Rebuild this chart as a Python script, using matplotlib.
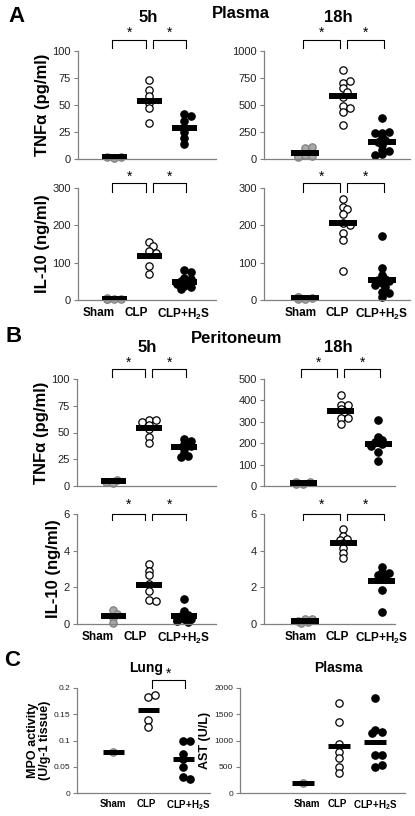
import matplotlib
matplotlib.use('Agg')
import matplotlib.pyplot as plt
from matplotlib.transforms import blended_transform_factory

plt.rcParams['font.family'] = ['Liberation Sans', 'DejaVu Sans']
plt.rcParams['mathtext.fontset'] = 'custom'
plt.rcParams['mathtext.rm'] = 'Liberation Sans'
plt.rcParams['mathtext.bf'] = 'Liberation Sans:bold'

groups = ['Sham', 'CLP', r'CLP+H$_\mathbf{2}$S']

# A - plasma
tnf_pl_5h = [[1, 2, 1.5], [73, 64, 58, 52, 47, 33], [42, 40, 35, 29, 25, 19, 14]]
tnf_pl_5h_mean = [1.5, 54, 28.5]
tnf_pl_18h = [[100, 115, 40, 25, 30, 20],
              [821, 706, 721, 655, 624, 570, 494, 473, 433, 312],
              [380, 245, 250, 240, 200, 175, 160, 130, 85, 70, 45, 35]]
tnf_pl_18h_mean = [55, 585, 160]
il10_pl_5h = [[2, 4, 3, 5, 3], [155, 145, 130, 125, 92, 70],
              [80, 75, 60, 55, 50, 48, 45, 42, 38, 35, 30]]
il10_pl_5h_mean = [3, 118, 48]
il10_pl_18h = [[3, 5, 8, 6, 4, 7], [270, 250, 243, 230, 205, 200, 180, 162, 79],
               [171, 86, 66, 57, 53, 50, 45, 40, 35, 22, 18, 9]]
il10_pl_18h_mean = [5, 205, 54]

# B - peritoneum
tnf_pe_5h = [[3, 6, 4], [62, 62, 60, 57, 53, 46, 40], [44, 42, 39, 37, 35, 31, 28, 27]]
tnf_pe_5h_mean = [4.5, 54, 36]
tnf_pe_18h = [[10, 18, 15, 12, 20, 8], [425, 380, 380, 360, 345, 320, 320, 290],
              [308, 230, 215, 205, 195, 190, 185, 160, 115]]
tnf_pe_18h_mean = [14, 350, 194]
il10_pe_5h = [[0.75, 0.55, 0.35, 0.05], [3.3, 2.9, 2.65, 2.2, 1.8, 1.3, 1.25],
              [1.38, 0.7, 0.5, 0.45, 0.3, 0.25, 0.2, 0.15, 0.1]]
il10_pe_5h_mean = [0.42, 2.15, 0.45]
il10_pe_18h = [[0.3, 0.25, 0.1, 0.05, 0.15], [5.2, 4.8, 4.65, 4.6, 4.4, 4.15, 3.9, 3.6],
               [3.1, 2.85, 2.8, 2.68, 2.6, 1.84, 0.63]]
il10_pe_18h_mean = [0.15, 4.41, 2.32]

# C - lung MPO and plasma AST
mpo_lung = [[0.078], [0.182, 0.186, 0.14, 0.126], [0.1, 0.1, 0.075, 0.064, 0.05, 0.031, 0.027]]
mpo_lung_mean = [0.078, 0.159, 0.064]
ast_plasma = [[195], [1710, 1350, 930, 775, 670, 500, 390],
              [1815, 1200, 1160, 1150, 720, 730, 500, 530]]
ast_plasma_mean = [190, 904, 978]

W, H = 415, 816
fig = plt.figure(figsize=(W / 100, H / 100), dpi=100)

faces = ['#a8a8a8', 'white', 'black']
edges = ['#808080', 'black', 'black']


def swarm(vals, py, px, d=7.0):
    # simple overlap-avoiding jitter, allows partial overlap like the original
    placed, out = [], []
    for v in vals:
        y = v * py
        x = 0.0
        for k in [0, 1, -1, 2, -2]:
            x = k * d * 0.5
            if all((x - a) ** 2 + (y - b) ** 2 >= (d * 0.6) ** 2 for a, b in placed):
                break
        placed.append((x, y))
        out.append(x / px)
    return out


def panel(box, data, means, ymax, yticks, xlim, ylabel=None, labx=None,
          brk=None, pairs=((1, 2), (2, 3)), small=False):
    x0, x1, yt, yb = box
    ax = fig.add_axes([x0 / W, 1 - yb / H, (x1 - x0) / W, (yb - yt) / H])
    px_x = (x1 - x0) / (xlim[1] - xlim[0])
    px_y = (yb - yt) / ymax
    for i, vals in enumerate(data):
        offs = swarm(vals, px_y, px_x)
        ax.scatter([i + 1 + o for o in offs], vals, s=28, c=faces[i], edgecolors=edges[i],
                   linewidths=0.9, zorder=2, clip_on=False)
        hw = 0.3 if small else 0.36
        ax.hlines(means[i], i + 1 - hw, i + 1 + hw, colors='black',
                  linewidth=3.6 if small else 4.3, zorder=3)
    ax.set_xlim(*xlim)
    ax.set_ylim(0, ymax)
    ax.set_yticks(yticks)
    ax.set_yticklabels([f'{t:g}' for t in yticks])
    for s in ['top', 'right']:
        ax.spines[s].set_visible(False)
    for s in ['left', 'bottom']:
        ax.spines[s].set_color('#808080')
        ax.spines[s].set_linewidth(0.9)
    ax.tick_params(axis='y', length=3, width=0.8, color='#808080', pad=2,
                   labelsize=6 if small else 8, labelcolor='#222222')
    if labx:
        # group labels sit slightly off the point columns, as in the original
        ax.set_xticks(labx)
        ax.set_xticklabels(groups, fontweight='bold', fontsize=7 if small else 8.5)
        ax.tick_params(axis='x', length=0, pad=4 if small else 5)
    else:
        ax.set_xticks([])
    if ylabel:
        ax.set_ylabel(ylabel, fontweight='bold', fontsize=9 if small else 12,
                      labelpad=2, linespacing=1.0)
    if brk:
        top, bot, star = brk
        tr = blended_transform_factory(ax.transData, ax.transAxes)
        for a, b in pairs:
            xa = a - 0.05 if a == 1 else a + 0.1
            xb = b - 0.1 if b == 2 else b + 0.05
            ax.plot([xa, xa, xb, xb], [bot, top, top, bot], color='black', lw=0.8,
                    transform=tr, clip_on=False)
            ax.text((xa + xb) / 2, star, '*', transform=tr, ha='center', va='center',
                    fontsize=10)
    return ax


tnf_lab = 'TNF\u03b1 (pg/ml)'
il10_lab = 'IL-10 (ng/ml)'
lab_left = [0.55, 1.62, 2.98]
lab_right = [0.9, 1.83, 3.0]

panel((78, 216, 51, 159), tnf_pl_5h, tnf_pl_5h_mean, 100, [0, 25, 50, 75, 100],
      (-0.03, 3.9), tnf_lab, brk=(1.10, 1.03, 1.17))
panel((264, 410, 51, 159), tnf_pl_18h, tnf_pl_18h_mean, 1000, [0, 250, 500, 750, 1000],
      (-0.06, 3.73), brk=(1.10, 1.03, 1.17))
panel((78, 216, 188, 300), il10_pl_5h, il10_pl_5h_mean, 300, [0, 100, 200, 300],
      (-0.03, 3.9), il10_lab, labx=lab_left, brk=(1.045, 0.965, 1.1))
panel((264, 410, 188, 300), il10_pl_18h, il10_pl_18h_mean, 300, [0, 100, 200, 300],
      (-0.06, 3.73), labx=lab_right, brk=(1.045, 0.965, 1.1))

panel((77, 216, 379, 486), tnf_pe_5h, tnf_pe_5h_mean, 100, [0, 25, 50, 75, 100],
      (-0.03, 3.9), tnf_lab, brk=(1.093, 1.02, 1.15))
panel((264, 395, 379, 486), tnf_pe_18h, tnf_pe_18h_mean, 500, [0, 100, 200, 300, 400, 500],
      (-0.04, 3.45), brk=(1.093, 1.02, 1.15))
panel((77, 216, 514, 624), il10_pe_5h, il10_pe_5h_mean, 6, [0, 2, 4, 6],
      (-0.03, 3.9), il10_lab, labx=lab_left, brk=(1.0, 0.95, 1.08))
panel((264, 395, 514, 624), il10_pe_18h, il10_pe_18h_mean, 6, [0, 2, 4, 6],
      (-0.06, 3.34), labx=lab_right, brk=(1.0, 0.95, 1.08))

panel((77, 210, 688, 793), mpo_lung, mpo_lung_mean, 0.2, [0, 0.05, 0.1, 0.15, 0.2],
      (-0.03, 3.77), 'MPO activity\n(U/g-1 tissue)', labx=[1.0, 1.95, 3.15],
      brk=(1.075, 1.0, 1.14), pairs=((2, 3),), small=True)
panel((240, 405, 688, 793), ast_plasma, ast_plasma_mean, 2000, [0, 500, 1000, 1500, 2000],
      (-0.75, 3.83), 'AST (U/L)', labx=[1.1, 1.95, 3.0], small=True)


def ftext(x, y, s, size, **kw):
    fig.text(x / W, 1 - y / H, s, fontsize=size, fontweight='bold', ha='center',
             va='center', **kw)


ftext(16, 16, 'A', 16)
ftext(148, 17, '5h', 12)
ftext(241, 13, 'Plasma', 12)
ftext(338, 17, '18h', 12)
ftext(14, 337, 'B', 16)
ftext(237, 338, 'Peritoneum', 12)
ftext(147, 347, '5h', 12)
ftext(338, 347, '18h', 12)
ftext(12, 660, 'C', 16)
ftext(146, 668, 'Lung', 10)
ftext(338, 668, 'Plasma', 10)

fig.savefig('out.png', dpi=100)
